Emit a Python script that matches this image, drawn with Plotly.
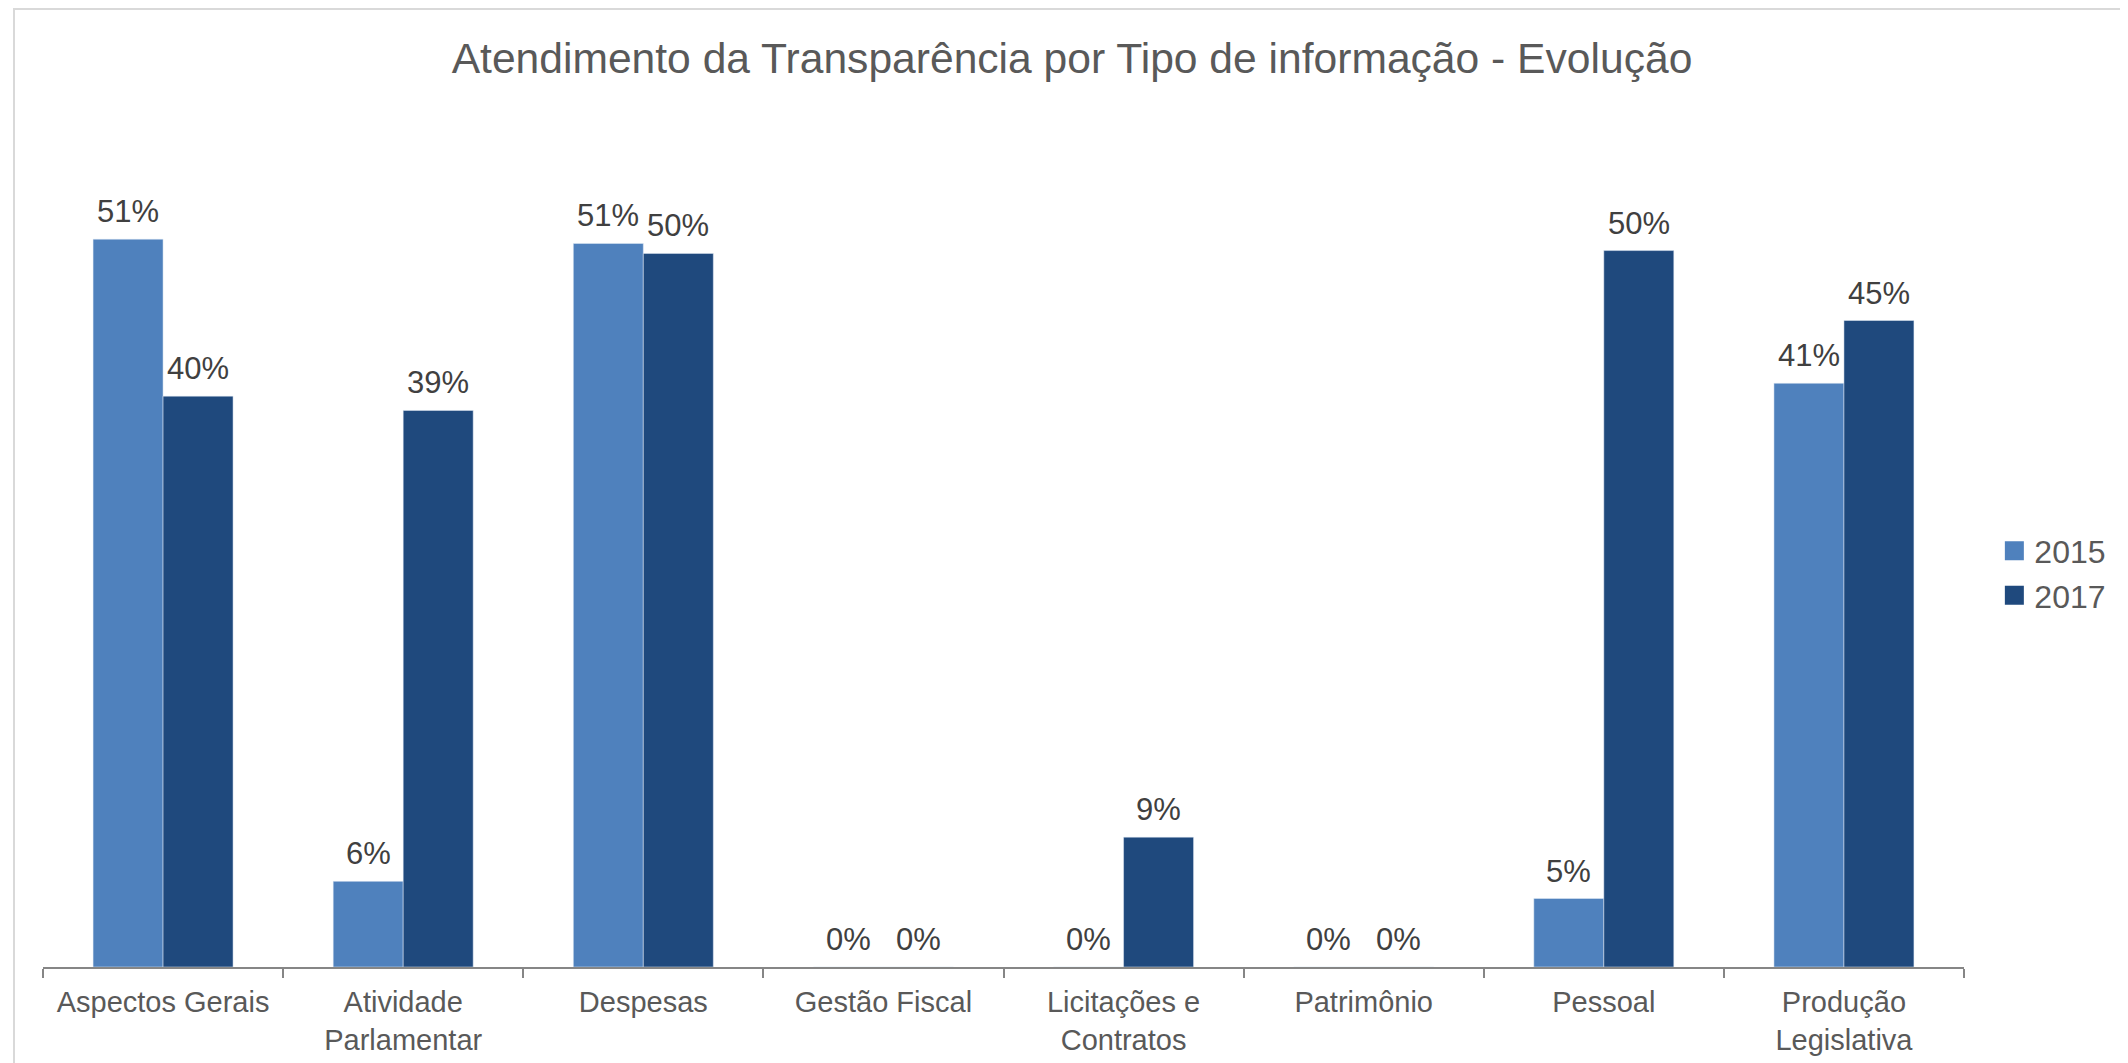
import plotly.graph_objects as go

# Atendimento da transparência por tipo de informação (fração atendida)
categorias = [
    "Aspectos Gerais", "Atividade<br>Parlamentar", "Despesas", "Gestão Fiscal",
    "Licitações e<br>Contratos", "Patrimônio", "Pessoal", "Produção<br>Legislativa",
]
anos = ["2015", "2017"]
valores_2015 = [0.510, 0.060, 0.507, 0.0, 0.0, 0.0, 0.048, 0.409]
valores_2017 = [0.400, 0.390, 0.500, 0.0, 0.091, 0.0, 0.502, 0.453]
cores = ["#4F81BD", "#1F497D"]

FONTE = "Liberation Sans, Arial, sans-serif"
LARGURA_BARRA = 70  # px, metade do grupo

fig = go.Figure()
anotacoes = []
for ano, valores, cor, lado in zip(anos, [valores_2015, valores_2017], cores, [-1, 1]):
    fig.add_trace(go.Bar(
        x=categorias, y=valores, name=ano,
        marker=dict(color=cor), showlegend=False,
    ))
    # marcador de legenda (quadrado maior que o padrão das barras)
    fig.add_trace(go.Scatter(
        x=[None], y=[None], name=ano, mode="markers",
        marker=dict(color=cor, symbol="square", size=16, line=dict(color=cor, width=3)),
    ))
    for cat, v in zip(categorias, valores):
        anotacoes.append(dict(
            x=cat, y=v, xref="x", yref="y",
            text=f"{round(v * 100)}%", showarrow=False,
            xanchor="center", yanchor="bottom",
            xshift=lado * LARGURA_BARRA / 2, yshift=8,
            font=dict(size=31, color="#404040", family=FONTE),
        ))

# a página html desloca a figura 8px (margem do body); compensado nas margens
fig.update_layout(
    width=2128, height=1063,
    paper_bgcolor="white", plot_bgcolor="white",
    margin=dict(l=35, r=172, t=92, b=104, autoexpand=False),
    barmode="group", bargap=0.417, bargroupgap=0,
    font=dict(family=FONTE, color="#595959"),
    title=dict(
        text="Atendimento da Transparência por Tipo de informação - Evolução",
        x=0.5, xanchor="center", y=0.953, yanchor="middle",
        font=dict(size=42.6, color="#595959", family=FONTE),
    ),
    legend=dict(
        x=1.0158, xanchor="left", y=0.454, yanchor="middle",
        font=dict(size=32, color="#595959"),
        itemwidth=30, tracegroupgap=8, itemsizing="trace",
    ),
    xaxis=dict(
        showline=True, linecolor="#868686", linewidth=2,
        ticks="outside", tickson="boundaries", ticklen=9, tickcolor="#868686", tickwidth=2,
        tickfont=dict(size=29, color="#595959"), ticklabelstandoff=8,
        showgrid=False, automargin=False,
    ),
    yaxis=dict(
        range=[0, 0.6075], visible=False, showgrid=False, zeroline=False, automargin=False,
    ),
    annotations=anotacoes,
    shapes=[dict(
        type="rect", xref="paper", yref="paper",
        x0=(6 - 35) / 1921, x1=1.2, y0=-0.2, y1=(959 - 1) / 867,
        line=dict(color="#D9D9D9", width=2), layer="below",
    )],
)

fig.write_html("out.html")
